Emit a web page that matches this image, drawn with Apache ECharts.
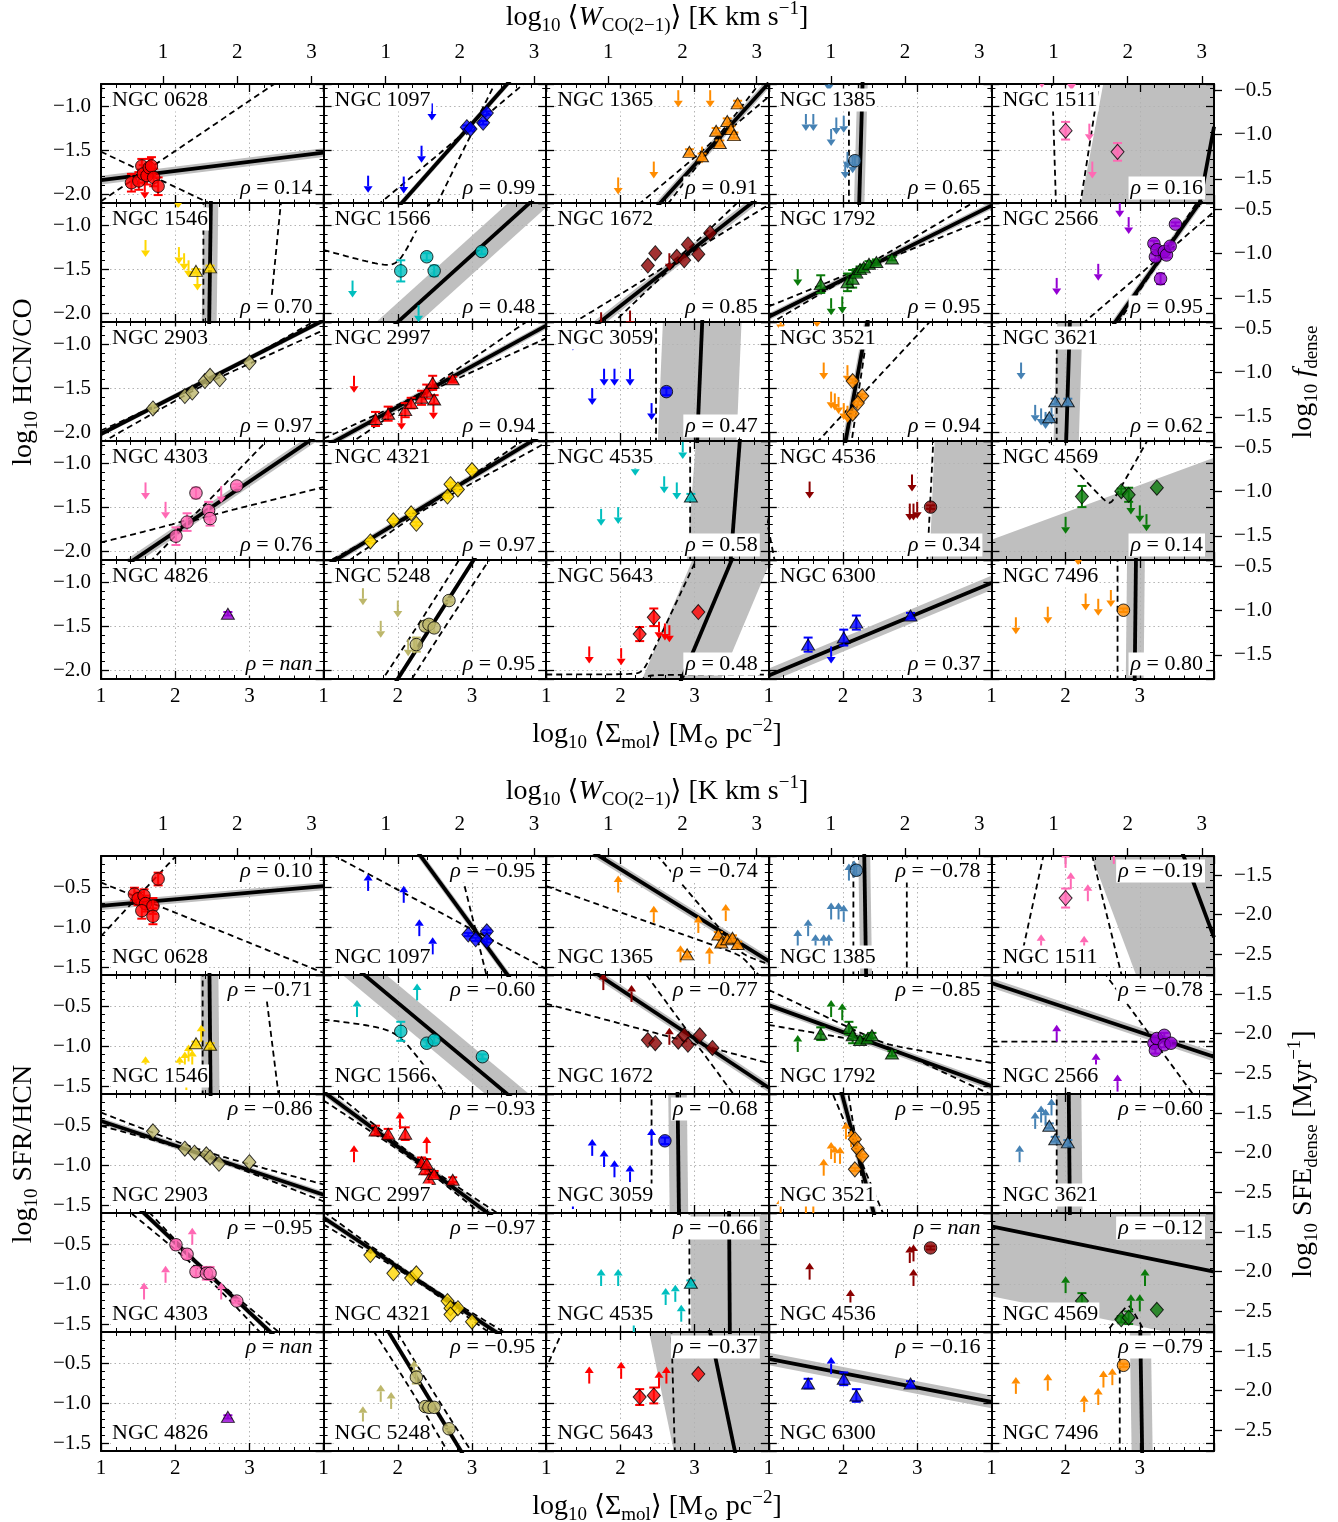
<!DOCTYPE html>
<html><head><meta charset="utf-8">
<script src="https://cdn.jsdelivr.net/npm/echarts@6/dist/echarts.min.js"></script>
<style>html,body{margin:0;padding:0;background:#fff}#c{width:1338px;height:1522px}</style>
</head><body><div id="c"></div><script>
// ---------------- DATA ----------------
const names = ['NGC 0628','NGC 1097','NGC 1365','NGC 1385','NGC 1511','NGC 1546','NGC 1566','NGC 1672','NGC 1792','NGC 2566','NGC 2903','NGC 2997','NGC 3059','NGC 3521','NGC 3621','NGC 4303','NGC 4321','NGC 4535','NGC 4536','NGC 4569','NGC 4826','NGC 5248','NGC 5643','NGC 6300','NGC 7496'];
const colors = ['#ff0000','#0000ff','#ff8c00','#4682b4','#ff69b4','#ffd700','#00bfbf','#8b0000','#0a7a0a','#9400d3','#bdb76b','#ff0000','#0000ff','#ff8c00','#4682b4','#ff69b4','#ffd700','#00bfbf','#8b0000','#0a7a0a','#9400d3','#bdb76b','#ff0000','#0000ff','#ff8c00'];
const markers = ['circle','diamond','triangle','circle','diamond','triangle','circle','diamond','triangle','circle','diamond','triangle','circle','diamond','triangle','circle','diamond','triangle','circle','diamond','triangle','circle','diamond','triangle','circle'];
const rhoTop = ['0.14','0.99','0.91','0.65','0.16','0.70','0.48','0.85','0.95','0.95','0.97','0.94','0.47','0.94','0.62','0.76','0.97','0.58','0.34','0.14','nan','0.95','0.48','0.37','0.80'];
const rhoBot = ['0.10','\u22120.95','\u22120.74','\u22120.78','\u22120.19','\u22120.71','\u22120.60','\u22120.77','\u22120.85','\u22120.78','\u22120.86','\u22120.93','\u22120.68','\u22120.95','\u22120.60','\u22120.95','\u22120.97','\u22120.66','nan','\u22120.12','nan','\u22120.95','\u22120.37','\u22120.16','\u22120.79'];
const xTickValues = [1, 2, 3];

// detections [log Sigma_mol, log HCN/CO, err]
const topPts = [
 [[1.41,-1.87,0.1],[1.51,-1.85,0.1],[1.55,-1.68,0.08],[1.57,-1.77,0.1],[1.62,-1.79,0.1],[1.65,-1.70,0.1],[1.68,-1.68,0.1],[1.71,-1.81,0.1],[1.77,-1.91,0.1]],
 [[2.93,-1.24,0.02],[2.98,-1.26,0.02],[3.15,-1.19,0.02],[3.20,-1.08,0.02]],
 [[2.93,-1.52,0.03],[3.10,-1.57,0.03],[3.29,-1.28,0.03],[3.34,-1.42,0.03],[3.44,-1.17,0.03],[3.49,-1.26,0.03],[3.53,-1.33,0.03],[3.58,-0.97,0.03]],
 [[2.16,-1.62,0.05]],
 [[2.00,-1.28,0.1],[2.70,-1.52,0.1]],
 [[2.28,-1.52,0.02],[2.47,-1.48,0.02]],
 [[2.04,-1.52,0.12],[2.39,-1.36,0.04],[2.49,-1.52,0.06],[3.13,-1.30,0.03]],
 [[2.37,-1.46,0],[2.47,-1.32,0],[2.76,-1.36,0],[2.86,-1.40,0],[2.91,-1.22,0],[3.05,-1.33,0],[3.21,-1.09,0]],
 [[1.70,-1.67,0.1],[2.06,-1.65,0.1],[2.13,-1.61,0.1],[2.18,-1.54,0.04],[2.23,-1.50,0.03],[2.28,-1.48,0.03],[2.35,-1.44,0.03],[2.45,-1.42,0.03],[2.66,-1.38,0.02]],
 [[3.19,-1.21,0.03],[3.21,-1.36,0.03],[3.23,-1.28,0.03],[3.28,-1.61,0.06],[3.33,-1.30,0.03],[3.36,-1.34,0.03],[3.41,-1.24,0.03],[3.48,-0.99,0.02]],
 [[1.70,-1.73,0.03],[2.13,-1.59,0],[2.23,-1.55,0],[2.40,-1.42,0],[2.47,-1.36,0],[2.60,-1.40,0],[3.00,-1.21,0]],
 [[1.70,-1.85,0.08],[1.87,-1.79,0.08],[2.10,-1.75,0.08],[2.18,-1.67,0.06],[2.32,-1.61,0.08],[2.39,-1.54,0.08],[2.47,-1.44,0.08],[2.49,-1.63,0.05],[2.74,-1.40,0.03]],
 [[2.62,-1.54,0.04]],
 [[2.13,-1.42,0.02],[2.26,-1.59,0.02],[2.20,-1.67,0.02],[2.13,-1.79,0.02]],
 [[1.78,-1.83,0.02],[1.86,-1.65,0.03],[2.03,-1.65,0.03]],
 [[2.01,-1.83,0.1],[2.16,-1.67,0.1],[2.28,-1.34,0.06],[2.45,-1.54,0.1],[2.47,-1.63,0.08],[2.83,-1.26,0.02]],
 [[1.63,-1.89,0.02],[1.94,-1.65,0.02],[2.18,-1.57,0.02],[2.25,-1.69,0.02],[2.67,-1.38,0.02],[2.71,-1.24,0.02],[2.81,-1.30,0.02],[3.00,-1.08,0.02]],
 [[2.95,-1.38,0.03]],
 [[3.18,-1.50,0.02]],
 [[2.22,-1.38,0.12],[2.75,-1.32,0.03],[2.85,-1.36,0.08],[3.23,-1.28,0]],
 [[2.71,-1.36,0.02]],
 [[2.25,-1.71,0.08],[2.37,-1.50,0.05],[2.42,-1.48,0.05],[2.49,-1.52,0.05],[2.69,-1.21,0.02]],
 [[2.26,-1.59,0.08],[2.45,-1.40,0.1],[3.05,-1.34,0]],
 [[1.53,-1.71,0.08],[2.01,-1.63,0.09],[2.18,-1.46,0.08],[2.91,-1.38,0.03]],
 [[2.78,-1.32,0.02]]
];
// upper limits [log Sigma_mol, limit]
const topLims = [
 [[1.59,-1.86]],
 [[2.46,-0.97],[2.32,-1.45],[1.60,-1.79],[2.08,-1.80]],
 [[2.78,-0.82],[3.21,-0.82],[2.45,-1.63],[1.97,-1.81],[3.10,-1.46]],
 [[1.50,-1.09],[1.60,-1.09],[1.84,-1.26],[1.91,-1.13],[2.01,-1.11],[2.06,-1.52],[2.13,-1.57],[2.03,-1.63],[1.81,-0.64]],
 [[2.32,-1.20],[2.36,-1.63],[1.68,-0.60],[2.08,-0.63]],
 [[1.60,-1.17],[2.05,-1.25],[2.12,-1.32],[2.18,-1.40],[2.30,-1.55],[2.04,-0.62]],
 [[1.39,-1.63],[2.28,-1.91]],
 [[2.66,-1.32],[1.74,-1.99],[2.13,-1.97]],
 [[1.39,-1.50],[1.84,-1.83],[1.99,-1.81]],
 [[2.73,-0.72],[2.85,-0.91],[2.44,-1.44],[1.88,-1.60]],
 [],
 [[1.41,-1.36],[2.05,-1.78],[2.48,-1.66]],
 [[1.36,-0.88],[1.78,-1.28],[1.92,-1.28],[2.13,-1.28],[1.62,-1.50],[2.42,-1.67]],
 [[1.74,-1.21],[2.06,-1.24],[1.84,-1.54],[1.89,-1.56],[1.94,-1.60],[2.01,-1.67],[2.06,-1.70],[1.16,-0.66],[1.65,-0.62]],
 [[1.40,-1.21],[1.59,-1.69],[1.67,-1.73],[1.73,-1.77],[1.81,-1.72]],
 [[1.60,-1.22],[1.87,-1.44],[2.62,-1.26]],
 [],
 [[2.20,-0.95],[2.84,-0.76],[2.59,-1.15],[2.76,-1.22],[1.74,-1.52],[1.97,-1.50]],
 [[1.55,-1.21],[2.93,-1.13],[2.90,-1.46],[2.95,-1.46],[3.00,-1.44]],
 [[2.00,-1.61],[2.88,-1.39],[3.00,-1.48],[3.09,-1.58]],
 [],
 [[1.53,-1.07],[1.77,-1.44],[2.00,-1.21],[2.22,-1.62],[2.14,-1.65]],
 [[1.58,-1.73],[2.01,-1.75],[2.52,-1.45],[2.60,-1.47],[2.66,-1.49]],
 [[1.84,-1.73]],
 [[1.33,-1.40],[1.76,-1.28],[2.27,-1.13],[2.44,-1.19],[2.61,-1.09],[2.17,-0.62]]
];
// fit: [pivot x, y at pivot, slope, scatter half-width]
const topFit = [
 [1.0,-1.84,0.104,0.05],[3.0,-1.2,0.95,0.04],[3.3,-1.39,0.93,0.06],[2.24,-1.45,30,2.1],[3.93,-1.55,4.5,7.2],
 [2.47,-1.4,60,6],[3.0,-1.34,0.76,0.22],[2.8,-1.39,0.66,0.06],[1.0,-2.04,0.42,0.04],[3.3,-1.35,1.19,0.06],
 [1.0,-2.02,0.43,0.03],[2.2,-1.62,0.46,0.04],[3.07,-1.4,20,10.6],[2.2,-1.34,4.6,0.2],[2.03,-1.5,27,4.6],
 [2.0,-1.78,0.57,0.06],[2.2,-1.57,0.51,0.04],[3.55,-1.4,11,6.5],[4.3,-1.45,20,22],[1.0,-3.12,0.31,1.25],
 null,[2.4,-1.57,1.32,0.04],[3.1,-1.55,2.0,1.06],[1.0,-2.06,0.35,0.08],[2.94,-1.4,80,9.6]
];
// fit uncertainty envelope: [xc, yc, slope, slope err, intercept err, orientation, branch]
const topDash = [
 [1.58,-1.75,0.085,0.485,0.01,0,0],[3.05,-1.2,1.22,0.52,0.04,0,0],[3.3,-1.38,0.9,0.2,0.03,0,0],[2.6,-1.4,0,0.02,0.52,1,-1],[1.925,-3.59,0.074,0.111,0,1,0],
 [2.38,-9.6,0.059,0.059,0,1,0],[2.0,-1.53,0.76,1.0,0.12,0,1],[2.8,-1.38,0.66,0.15,0.03,0,0],[2.25,-1.5,0.42,0.08,0.02,0,0],[3.3,-1.35,1.0,0.28,0.03,0,0],
 [2.4,-1.45,0.43,0.05,0.01,0,0],[2.3,-1.58,0.48,0.1,0.02,0,0],[3.6,-1.4,0,0.01,1.12,1,-1],[2.2,-1.62,3.3,2.4,0.05,0,0],[2.5,-1.5,0,0.01,0.62,1,-1],
 [2.2,-1.65,0.54,0.33,0.03,0,0],[2.3,-1.55,0.52,0.06,0.01,0,0],[3.55,-1.4,0,0.02,0.61,1,-1],[2.71,-9.2,-0.085,0.145,0,1,0],[2.6,-1.5,0.3,1.2,0.05,0,1],
 null,[2.4,-1.57,1.32,0.15,0.25,0,0],[2.3,-2.05,0.9,0.9,0.05,0,0],null,[3.3,-1.4,0,0.01,0.6,1,-1]
];

// detections [log Sigma_mol, log SFR/HCN, err]
const botPts = [
 [[1.45,-0.58,0.08],[1.50,-0.64,0.08],[1.58,-0.60,0.08],[1.60,-0.70,0.1],[1.55,-0.79,0.1],[1.70,-0.73,0.1],[1.70,-0.86,0.1],[1.77,-0.39,0.08]],
 [[2.95,-1.09,0.02],[3.05,-1.15,0.02],[3.20,-1.05,0.02],[3.20,-1.17,0.02]],
 [[2.90,-1.34,0.03],[3.32,-1.09,0.03],[3.36,-1.19,0.03],[3.44,-1.15,0.03],[3.51,-1.13,0.03],[3.58,-1.21,0.03]],
 [[2.18,-0.28,0.06]],
 [[2.00,-0.63,0.12]],
 [[2.28,-0.96,0.02],[2.47,-0.98,0.02]],
 [[2.04,-0.81,0.12],[2.39,-0.96,0.04],[2.49,-0.92,0.04],[3.14,-1.13,0.03]],
 [[2.37,-0.92,0],[2.47,-0.96,0],[2.78,-0.94,0],[2.86,-0.86,0],[2.91,-0.98,0],[3.07,-0.86,0],[3.24,-1.02,0]],
 [[1.70,-0.84,0.08],[2.08,-0.77,0.08],[2.13,-0.86,0.1],[2.23,-0.92,0.04],[2.33,-0.90,0.04],[2.39,-0.86,0.03],[2.66,-1.09,0.03]],
 [[3.19,-0.96,0.03],[3.21,-1.05,0.04],[3.23,-0.90,0.03],[3.33,-0.86,0.03],[3.33,-0.98,0.03],[3.42,-0.96,0.03]],
 [[1.70,-0.57,0],[2.13,-0.79,0],[2.26,-0.84,0],[2.42,-0.86,0],[2.47,-0.90,0],[2.59,-0.98,0],[3.00,-0.96,0]],
 [[1.70,-0.56,0.06],[1.87,-0.60,0.06],[2.10,-0.60,0.08],[2.32,-0.96,0.06],[2.37,-1.05,0.06],[2.39,-0.98,0.06],[2.42,-1.17,0.06],[2.49,-1.11,0.04],[2.74,-1.18,0.03]],
 [[2.60,-0.69,0.04]],
 [[2.16,-0.67,0.02],[2.20,-0.79,0.02],[2.26,-0.88,0.02],[2.16,-1.05,0.02]],
 [[1.78,-0.50,0.03],[1.86,-0.67,0.03],[2.03,-0.71,0.03]],
 [[2.01,-0.50,0.06],[2.16,-0.62,0.06],[2.28,-0.84,0.06],[2.42,-0.86,0.08],[2.47,-0.86,0.08],[2.83,-1.21,0.02]],
 [[1.63,-0.63,0],[1.94,-0.86,0],[2.18,-0.92,0],[2.25,-0.86,0],[2.67,-1.21,0],[2.71,-1.30,0],[2.81,-1.30,0],[2.71,-1.38,0],[3.00,-1.47,0]],
 [[2.95,-0.98,0.03]],
 [[3.18,-0.54,0.02]],
 [[2.22,-1.21,0.1],[2.75,-1.44,0.04],[2.85,-1.42,0.08],[3.23,-1.32,0]],
 [[2.71,-1.17,0.02]],
 [[2.25,-0.67,0.08],[2.37,-1.04,0.05],[2.42,-1.05,0.05],[2.49,-1.05,0.05],[2.69,-1.32,0.02]],
 [[2.26,-0.92,0.1],[2.45,-0.90,0.1],[3.05,-0.63,0]],
 [[1.53,-0.75,0.06],[2.01,-0.69,0.08],[2.18,-0.90,0.08],[2.91,-0.75,0.03]],
 [[2.78,-0.52,0.02]]
];
// lower limits [log Sigma_mol, limit]
const botLims = [
 [],
 [[1.60,-0.54],[2.08,-0.69],[2.29,-1.11],[2.47,-1.34]],
 [[1.97,-0.56],[2.45,-0.94],[3.05,-1.07],[3.42,-0.92],[2.81,-1.44],[3.20,-1.46]],
 [[1.39,-1.24],[1.53,-1.11],[1.63,-1.30],[1.74,-1.30],[1.81,-1.30],[1.84,-0.90],[1.94,-0.90],[2.01,-0.93],[2.08,-0.41],[2.15,-0.37]],
 [[2.07,-0.52],[2.30,-0.67],[1.67,-1.30],[2.25,-1.32],[2.00,-0.25],[2.65,-0.20]],
 [[2.18,-1.19],[2.06,-1.34],[2.13,-1.28],[2.23,-1.26],[2.35,-0.94],[1.60,-1.34],[2.15,-1.55]],
 [[2.26,-0.42],[1.45,-0.63]],
 [[1.77,-0.29],[2.15,-0.44],[2.66,-0.98]],
 [[1.39,-1.07],[1.84,-0.63],[1.99,-0.67]],
 [[1.88,-0.94],[2.41,-1.30],[2.70,-1.57]],
 [],
 [[1.41,-0.96],[2.03,-0.54],[2.39,-0.85]],
 [[1.62,-0.88],[1.78,-1.02],[1.92,-1.15],[2.13,-1.21],[2.42,-0.75],[1.36,-1.55]],
 [[1.74,-1.13],[1.84,-0.92],[1.89,-0.97],[1.96,-0.98],[2.04,-0.67],[2.11,-0.77],[1.16,-1.62],[1.50,-1.62],[1.60,-1.62]],
 [[1.38,-0.96],[1.59,-0.54],[1.67,-0.46],[1.73,-0.50],[1.81,-0.37]],
 [[1.58,-1.19],[1.87,-0.98],[2.23,-0.50],[2.62,-1.19]],
 [],
 [[1.74,-1.02],[1.97,-1.02],[2.61,-1.26],[2.74,-1.22],[2.82,-1.47],[2.18,-1.62]],
 [[1.55,-0.94],[2.10,-1.28],[2.90,-0.73],[2.95,-0.71],[2.95,-1.02]],
 [[2.00,-1.11],[2.88,-1.34],[3.00,-1.34],[3.07,-1.02]],
 [],
 [[2.22,-0.67],[1.77,-0.98],[1.91,-1.07],[1.53,-1.25]],
 [[1.58,-0.75],[2.01,-0.69],[2.52,-0.81],[2.62,-0.75]],
 [[1.84,-0.63]],
 [[1.33,-0.88],[1.76,-0.84],[2.25,-1.11],[2.44,-1.02],[2.51,-0.80],[2.63,-0.77]]
];
const botFit = [
 [1.0,-0.73,0.083,0.05],[3.05,-1.05,-1.28,0.06],[3.3,-1.02,-0.58,0.06],[2.30,-0.9,-60,4.8],[3.85,-0.75,-2.5,3.1],
 [2.47,-0.9,-100,12],[2.5,-0.84,-0.78,0.23],[1.74,-0.12,-0.62,0.06],[1.0,-0.48,-0.34,0.05],[1.0,-0.2,-0.31,0.06],
 [1.0,-0.44,-0.31,0.04],[2.3,-0.97,-0.69,0.05],[2.78,-0.9,-80,10],[2.2,-0.85,-3.5,0.15],[2.05,-0.85,-100,17],
 [1.60,-0.12,-0.88,0.04],[1.0,-0.16,-0.62,0.04],[3.47,-0.9,-150,78],null,[1.0,-0.27,-0.19,0.88],
 null,[1.89,-0.12,-1.54,0.05],[3.38,-0.87,-4.5,3.7],[1.0,-0.44,-0.18,0.08],[3.02,-0.9,-60,8.5]
];
const botDash = [
 [1.49,-0.62,0.31,0.69,0.01,0,0],[3.05,-1.05,-2.15,1.65,0.03,0,0],[3.64,-1.35,-0.715,0.385,0.03,0,0],[2.5,-0.9,0,0.01,0.36,1,0],[2.01,1.23,-0.015,0.248,0,1,0],
 [2.37,6.08,-0.0665,0.0665,0,1,0],[2.0,-0.75,-0.7,0.6,0.12,0,-1],[3.03,-0.97,-0.765,0.515,0.02,0,0],[2.57,-0.98,-0.3,0.14,0.02,0,0],[3.2,-0.94,-0.64,0.64,0.02,0,0],
 [2.3,-0.82,-0.31,0.06,0.03,0,0],[2.3,-0.97,-0.69,0.08,0.03,0,0],[3.5,-0.9,0,0.01,1.08,1,-1],[2.2,-0.85,-0.31,0.14,0.01,1,0],[2.5,-0.85,0,0.01,0.62,1,-1],
 [2.4,-0.85,-0.88,0.12,0.04,0,0],[2.3,-0.97,-0.62,0.06,0.02,0,0],[3.5,-0.9,0,0.01,0.57,1,-1],null,[2.85,-1.22,-0.22,1.5,0.05,0,-1],
 null,[2.3,-0.8,-1.54,0.2,0.22,0,0],[2.6,2.85,0.22,0.25,0,1,0],null,[3.4,-0.9,0,0.01,0.67,1,-1]
];

// ---------------- LAYOUT / STYLE ----------------
const FONT = '"Liberation Serif","DejaVu Serif",serif';
const L0 = 101, CW = 222.6, RH = 119;
const TOPS = [84, 856];
const YR = [[-2.1, -0.75], [-1.6, -0.1]];
const ROFF = [0.325, -1.16];   // right axis offset
const WOFF = 0.836;            // Sigma_mol = W_CO + offset
const BAND = '#bfbfbf';
const fmtY = v => (v < 0 ? '\u2212' : '') + Math.abs(v).toFixed(1);

const FIG = [
  {pts: topPts, lims: topLims, fit: topFit, dash: topDash, rho: rhoTop, dir: -1},
  {pts: botPts, lims: botLims, fit: botFit, dash: botDash, rho: rhoBot, dir: 1}
];

function envelope(d, ymin, ymax) {
  const [xc, yc, m, k, s, orient, br] = d;
  const signs = br === 0 ? [1, -1] : [br];
  return signs.map(g => {
    const pts = [];
    if (orient === 0) {
      for (let j = 0; j <= 300; j++) { const x = 1 + j * 0.01, dx = x - xc; pts.push([x, yc + m * dx + g * Math.sqrt(s * s + k * k * dx * dx)]); }
    } else {
      for (let j = 0; j <= 300; j++) { const y = ymin - 0.03 + (ymax - ymin + 0.06) * j / 300, dy = y - yc; pts.push([xc + m * dy + g * Math.sqrt(s * s + k * k * dy * dy), y]); }
    }
    return pts;
  });
}

const grids = [], xAxes = [], yAxes = [], series = [], graphics = [];
const spine = {show: true, lineStyle: {color: '#000', width: 2}};
const tickIn = {show: true, inside: true, length: 8, lineStyle: {color: '#000', width: 1.3}};
const minorIn = {show: true, inside: true, length: 4, lineStyle: {color: '#000', width: 1}};
const grid = {show: true, lineStyle: {color: '#b3b3b3', width: 1, type: [1.5, 3]}};
const lab = (show, extra) => Object.assign({show, fontFamily: FONT, fontSize: 21, color: '#000'}, extra || {});

for (let f = 0; f < 2; f++) {
  const F = FIG[f];
  const [ymin, ymax] = YR[f];
  for (let i = 0; i < 25; i++) {
    const r = Math.floor(i / 5), c = i % 5;
    const left = L0 + c * CW, top = TOPS[f] + r * RH;
    const gi = grids.length;
    grids.push({left, top, width: CW, height: RH, containLabel: false});
    const xi = xAxes.length;
    xAxes.push({type: 'value', gridIndex: gi, position: 'bottom', min: 1, max: 4, interval: 1,
      axisLine: spine, axisTick: tickIn, minorTick: Object.assign({splitNumber: 5}, minorIn), splitLine: grid,
      axisLabel: lab(r === 4, {showMaxLabel: false, margin: 7})});
    xAxes.push({type: 'value', gridIndex: gi, position: 'top', min: 1, max: 4, interval: 1,
      axisLine: spine, axisTick: tickIn, minorTick: Object.assign({splitNumber: 5}, minorIn), splitLine: {show: false},
      axisLabel: {show: false}});
    if (r === 0) {
      xAxes.push({type: 'value', gridIndex: gi, position: 'top', min: 1 - WOFF, max: 4 - WOFF, splitNumber: 3,
        axisLine: {show: false}, axisTick: {show: true, inside: false, length: 8, lineStyle: {color: '#000', width: 1.3}},
        splitLine: {show: false}, axisLabel: lab(true, {showMinLabel: false, showMaxLabel: false, margin: 21,
          formatter: v => xTickValues.indexOf(Math.round(v)) >= 0 ? String(Math.round(v)) : ''})});
    }
    const yi = yAxes.length;
    yAxes.push({type: 'value', gridIndex: gi, position: 'left', min: ymin, max: ymax, splitNumber: 3,
      axisLine: spine, axisTick: tickIn, splitLine: grid,
      axisLabel: lab(c === 0, {showMinLabel: false, showMaxLabel: false, margin: 10, formatter: fmtY})});
    yAxes.push({type: 'value', gridIndex: gi, position: 'left', min: ymin, max: ymax, interval: 0.1,
      axisLine: {show: false}, axisTick: minorIn, splitLine: {show: false}, axisLabel: {show: false}});
    yAxes.push({type: 'value', gridIndex: gi, position: 'right', min: ymin, max: ymax, splitNumber: 3,
      axisLine: spine, axisTick: tickIn, splitLine: {show: false}, axisLabel: {show: false}});
    yAxes.push({type: 'value', gridIndex: gi, position: 'right', min: ymin, max: ymax, interval: 0.1,
      axisLine: {show: false}, axisTick: minorIn, splitLine: {show: false}, axisLabel: {show: false}});
    if (c === 4) {
      yAxes.push({type: 'value', gridIndex: gi, position: 'right', min: ymin + ROFF[f], max: ymax + ROFF[f], splitNumber: 3,
        axisLine: {show: false}, axisTick: {show: true, inside: false, length: 8, lineStyle: {color: '#000', width: 1.3}},
        splitLine: {show: false}, axisLabel: lab(true, {showMinLabel: false, showMaxLabel: false, margin: 20, formatter: fmtY})});
    }
    const col = colors[i];
    const fit = F.fit[i], dash = F.dash[i];
    if (fit) {
      series.push({type: 'custom', xAxisIndex: xi, yAxisIndex: yi, clip: true, z: -1, silent: true,
        data: [[fit[0], fit[1]]],
        renderItem: (params, api) => {
          const [xp, yp, b, w] = fit;
          const yf = x => yp + b * (x - xp);
          const pts = [[1, yf(1) - w], [4, yf(4) - w], [4, yf(4) + w], [1, yf(1) + w]].map(p => api.coord(p));
          return {type: 'polygon', shape: {points: pts}, style: {fill: BAND}};
        }});
    }
    if (dash) {
      envelope(dash, ymin, ymax).forEach(pts => series.push({type: 'line', xAxisIndex: xi, yAxisIndex: yi, data: pts,
        showSymbol: false, symbol: 'none', clip: true, silent: true, z: 2,
        lineStyle: {color: '#000', width: 1.8, type: [6, 4]}}));
    }
    if (fit) {
      const [xp, yp, b] = fit;
      series.push({type: 'line', xAxisIndex: xi, yAxisIndex: yi, showSymbol: false, symbol: 'none', clip: true, silent: true, z: 3,
        data: [[1, yp + b * (1 - xp)], [4, yp + b * (4 - xp)]], lineStyle: {color: '#000', width: 3.8}});
    }
    const dir = F.dir;
    if (F.lims[i].length) {
      series.push({type: 'custom', xAxisIndex: xi, yAxisIndex: yi, clip: true, z: 4, silent: true,
        data: F.lims[i],
        renderItem: (params, api) => {
          const p = api.coord([api.value(0), api.value(1)]);
          const Lh = 17, hw = 4.5, hl = 6.5;
          const tip = p[1] - dir * Lh, base = tip + dir * hl;
          return {type: 'group', children: [
            {type: 'line', shape: {x1: p[0], y1: p[1], x2: p[0], y2: base}, style: {stroke: col, lineWidth: 2}},
            {type: 'polygon', shape: {points: [[p[0] - hw, base], [p[0] + hw, base], [p[0], tip]]}, style: {fill: col}}
          ]};
        }});
    }
    series.push({type: 'custom', xAxisIndex: xi, yAxisIndex: yi, clip: true, z: 5, silent: true,
      data: F.pts[i],
      renderItem: (params, api) => {
        const x = api.value(0), y = api.value(1), e = api.value(2);
        if (!e) return {type: 'group', children: []};
        const p1 = api.coord([x, y - e]), p2 = api.coord([x, y + e]);
        const st = {stroke: col, lineWidth: 2};
        return {type: 'group', children: [
          {type: 'line', shape: {x1: p1[0], y1: p1[1], x2: p2[0], y2: p2[1]}, style: st},
          {type: 'line', shape: {x1: p1[0] - 4.5, y1: p1[1], x2: p1[0] + 4.5, y2: p1[1]}, style: st},
          {type: 'line', shape: {x1: p2[0] - 4.5, y1: p2[1], x2: p2[0] + 4.5, y2: p2[1]}, style: st}
        ]};
      }});
    const mk = markers[i];
    series.push({type: 'scatter', xAxisIndex: xi, yAxisIndex: yi, z: 6, silent: true,
      data: F.pts[i].map(d => [d[0], d[1]]), symbol: mk,
      symbolSize: mk === 'circle' ? 12.5 : mk === 'diamond' ? [13, 15] : [13, 11],
      itemStyle: {color: col, borderColor: '#000', borderWidth: 1}});
    const nameY = f === 0 ? top + 16 : top + RH - 18;
    graphics.push({type: 'text', z: 100, style: {text: names[i], x: left + 10, y: nameY, font: '22px ' + FONT,
      fill: '#000', align: 'left', verticalAlign: 'middle', textAlign: 'left', textVerticalAlign: 'middle',
      backgroundColor: '#fff', padding: [1, 1, 0, 1]}});
    const rv = F.rho[i];
    const rt = rv === 'nan' ? '{i|\u03c1}{n| = }{i|nan}' : '{i|\u03c1}{n| = ' + rv + '}';
    const rhoY = f === 0 ? top + RH - 15 : top + 15;
    graphics.push({type: 'text', z: 100, style: {text: rt, x: left + CW - 9, y: rhoY,
      align: 'right', verticalAlign: 'middle', textAlign: 'right', textVerticalAlign: 'middle',
      backgroundColor: '#fff', padding: [1, 2, 0, 2],
      rich: {i: {fontFamily: FONT, fontSize: 22, fontStyle: 'italic', fill: '#000'}, n: {fontFamily: FONT, fontSize: 22, fill: '#000'}}}});
  }
}

// axis titles
const RICH = {
  r: {fontFamily: FONT, fontSize: 28, lineHeight: 36, fill: '#000'},
  i: {fontFamily: FONT, fontSize: 28, lineHeight: 36, fontStyle: 'italic', fill: '#000'},
  s: {fontFamily: FONT, fontSize: 19, lineHeight: 19, verticalAlign: 'bottom', fill: '#000'},
  p: {fontFamily: FONT, fontSize: 19, lineHeight: 22, verticalAlign: 'top', fill: '#000'}
};
const T_W = '{r|log}{s|10}{r| \u27e8}{i|W}{s|CO(2\u22121)}{r|\u27e9 [K km s}{p|\u22121}{r|]}';
const T_S = '{r|log}{s|10}{r| \u27e8\u03a3}{s|mol}{r|\u27e9 [M}{s|\u2299}{r| pc}{p|\u22122}{r|]}';
const T_HC = '{r|log}{s|10}{r| HCN/CO}';
const T_FD = '{r|log}{s|10}{i| f}{s|dense}';
const T_SH = '{r|log}{s|10}{r| SFR/HCN}';
const T_SE = '{r|log}{s|10}{r| SFE}{s|dense}{r| [Myr}{p|\u22121}{r|]}';
function title(text, x, y, rot) {
  graphics.push({type: 'text', x, y, rotation: rot || 0, z: 100,
    style: {text, x: 0, y: 0, align: 'center', verticalAlign: 'middle', textAlign: 'center', textVerticalAlign: 'middle', rich: RICH}});
}
title(T_W, 657, 18); title(T_S, 657, 735);
title(T_W, 657, 792); title(T_S, 657, 1507);
title(T_HC, 24, 382, Math.PI / 2); title(T_SH, 24, 1154, Math.PI / 2);
title(T_FD, 1304, 382, Math.PI / 2); title(T_SE, 1304, 1154, Math.PI / 2);

const chart = echarts.init(document.getElementById('c'), null, {renderer: 'canvas', width: 1338, height: 1522});
chart.setOption({
  animation: false,
  backgroundColor: '#fff',
  textStyle: {fontFamily: FONT},
  grid: grids, xAxis: xAxes, yAxis: yAxes, series,
  graphic: {elements: graphics}
});
</script></body></html>
